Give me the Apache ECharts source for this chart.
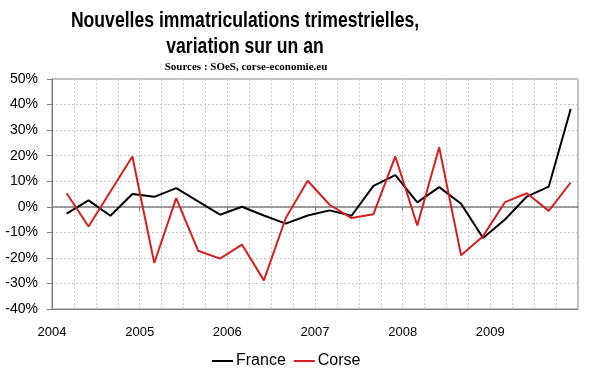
<!DOCTYPE html>
<html><head><meta charset="utf-8">
<script src="https://cdn.jsdelivr.net/npm/echarts@6/dist/echarts.min.js"></script>
<style>html,body{margin:0;padding:0;background:#fff}#c{width:600px;height:372px}</style>
</head><body><div id="c"></div>
<script>
// Quarter dates (year, month of point)
var quarters = ["2004-03","2004-06","2004-09","2004-12","2005-03","2005-06","2005-09","2005-12",
  "2006-03","2006-06","2006-09","2006-12","2007-03","2007-06","2007-09","2007-12",
  "2008-03","2008-06","2008-09","2008-12","2009-03","2009-06","2009-09","2009-12"];
var france = [-2.7,2.5,-3.5,5.0,3.9,7.3,2.1,-3.1,0.0,-3.4,-6.6,-3.4,-1.4,-3.5,8.2,12.4,1.7,7.7,1.2,-12.2,-5.0,4.0,7.9,38.3];
var corse = [5.3,-7.7,6.0,19.7,-22.0,3.4,-17.2,-20.3,-14.8,-28.8,-4.4,10.2,0.8,-4.4,-2.9,19.7,-7.3,23.3,-19.0,-11.5,1.8,5.3,-1.6,9.5];
var yearLabels = [2004,2005,2006,2007,2008,2009];
var titleLines = ['Nouvelles immatriculations trimestrielles,', 'variation sur un an'];
var sourceText = 'Sources : SOeS, corse-economie.eu';

function toYear(q){var p=q.split('-');return +p[0]+(+p[1]-1)/12;}
function pairs(vals){return quarters.map(function(q,i){return [toYear(q),vals[i]];});}

var titleFont = {fontFamily:'Arial, "Liberation Sans", sans-serif', fontWeight:'bold', fontSize:22, fill:'#000', textAlign:'center', textVerticalAlign:'middle'};
var chart = echarts.init(document.getElementById('c'), null, {renderer:'canvas'});
chart.setOption({
  backgroundColor:'#fff',
  animation:false,
  graphic:[
    {type:'text', x:245, y:21, scaleX:0.8, style:Object.assign({text:titleLines[0]}, titleFont)},
    {type:'text', x:245, y:47, scaleX:0.8, style:Object.assign({text:titleLines[1]}, titleFont)},
    {type:'text', x:246, y:67, style:{text:sourceText, fontFamily:'"Liberation Serif", "Times New Roman", serif', fontWeight:'bold', fontSize:11, fill:'#000', textAlign:'center', textVerticalAlign:'middle'}}
  ],
  legend:{
    data:['France','Corse'], left:207, top:348, itemWidth:21, itemHeight:2, itemGap:8, icon:'rect',
    textStyle:{fontFamily:'Arial, "Liberation Sans", sans-serif', fontSize:16, color:'#000', padding:[0,0,0,-2]}
  },
  grid:{left:52, right:22, top:79, bottom:63, show:true, borderColor:'#808080', borderWidth:1, backgroundColor:'#fff'},
  xAxis:[
    {type:'value', min:2004, max:2010, interval:0.25, position:'bottom',
     axisLine:{onZero:false, lineStyle:{color:'#808080', width:1}},
     axisTick:{show:false},
     splitLine:{show:true, lineStyle:{color:'#c8c8c8', type:[2,2], width:1}},
     axisLabel:{margin:17, fontFamily:'Arial, "Liberation Sans", sans-serif', fontSize:13, color:'#000',
       formatter:function(v){return yearLabels.indexOf(v)>=0 ? String(v) : '';}}
    },
    {type:'value', min:2004, max:2010, interval:0.25, position:'bottom',
     axisLine:{onZero:true, lineStyle:{color:'#808080', width:1.5}},
     axisTick:{show:true, customValues:yearLabels.slice(1), length:4, inside:false, lineStyle:{color:'#808080'}},
     splitLine:{show:false}, axisLabel:{show:false}
    }
  ],
  yAxis:{type:'value', min:-40, max:50, interval:10,
    axisLine:{show:true, lineStyle:{color:'#808080', width:1}},
    axisTick:{show:true, length:5, lineStyle:{color:'#808080'}},
    splitLine:{show:true, lineStyle:{color:'#c8c8c8', type:[2,2], width:1}},
    axisLabel:{margin:14, fontFamily:'Arial, "Liberation Sans", sans-serif', fontSize:14, color:'#000', formatter:'{value}%'}
  },
  series:[
    {name:'France', type:'line', xAxisIndex:0, data:pairs(france), showSymbol:false, symbol:'none',
     lineStyle:{color:'#000', width:2}, itemStyle:{color:'#000'}},
    {name:'Corse', type:'line', xAxisIndex:0, data:pairs(corse), showSymbol:false, symbol:'none',
     lineStyle:{color:'#d42020', width:2}, itemStyle:{color:'#d42020'}}
  ]
});
</script></body></html>
